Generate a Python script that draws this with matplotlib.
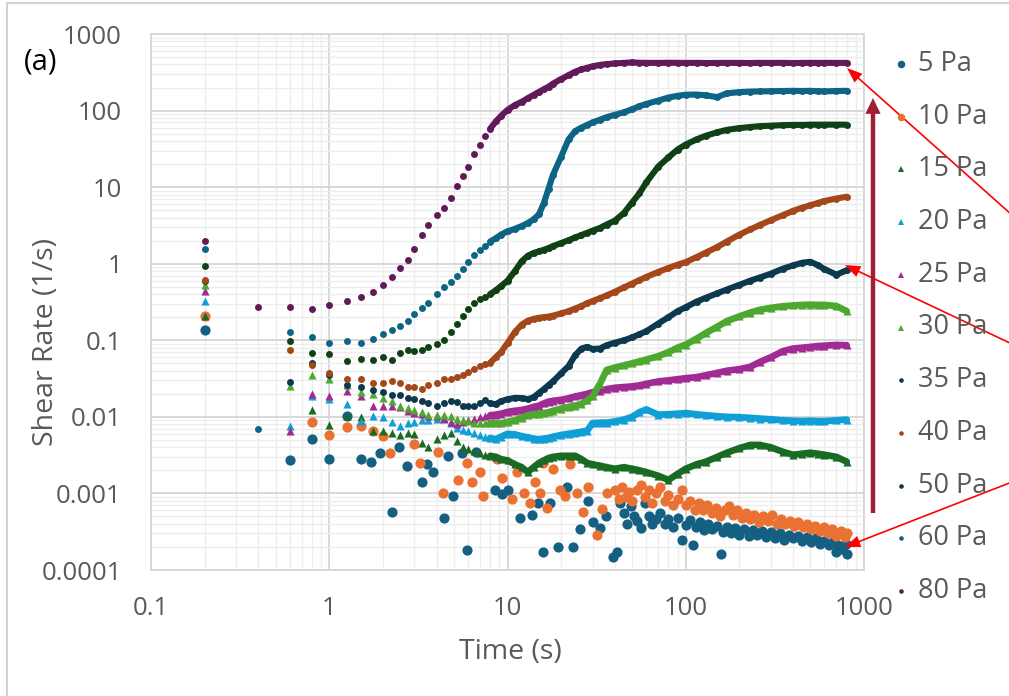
import numpy as np
import matplotlib
matplotlib.use("Agg")
import matplotlib.pyplot as plt
from matplotlib import ticker
from matplotlib.lines import Line2D

nan = float('nan')

# ---------------- data ----------------
time_s = [0.2, 0.4, 0.6, 0.8, 1.0, 1.25, 1.5, 1.75, 2.0, 2.25, 2.5, 2.75, 3.0,
          3.3, 3.6, 4.0, 4.4, 4.8, 5.2, 5.6, 6.0, 6.5, 7.0, 7.5, 8.0, 8.6, 9.2, 10,
          11, 12, 13, 14, 15, 16, 17, 18, 20, 22, 24, 26, 28, 30, 33, 36,
          40, 45, 50, 55, 60, 70, 80, 90, 100, 115, 130, 150, 170, 200, 230, 260,
          300, 350, 400, 450, 500, 550, 600, 700, 800]

rate_15pa = [0.21, nan, nan, 0.0124, 0.0079,
             0.0102, 0.01, 0.0065, 0.0065,
             0.0062, 0.0058, 0.0062, 0.006,
             0.0045, 0.0041, 0.0052,
             0.0058, 0.0062, 0.0048, 0.0041,
             0.0038, 0.0036, 0.0034, 0.0032,
             0.0031, 0.003, 0.0028, 0.0027,
             0.0024, 0.0022, 0.0019, 0.0022,
             0.0025, 0.0027, 0.0029, 0.003,
             0.0031, 0.0031, 0.0031, 0.0028,
             0.0025, 0.0024, 0.0023, 0.0022,
             0.0021, 0.0022, 0.0021, 0.002,
             0.0019, 0.0017, 0.0015, 0.0018,
             0.0021, 0.0024, 0.0026, 0.003,
             0.0034, 0.0039, 0.0043, 0.0043,
             0.004, 0.0035, 0.0032, 0.0033,
             0.0034, 0.0033, 0.0032, 0.003,
             0.0026]

rate_20pa = [0.33, nan, 0.0075, 0.019, 0.017,
             0.0148, 0.0088, 0.0102, 0.01,
             0.0085, 0.0075, 0.0082, 0.0085,
             0.009, 0.0092, 0.0095,
             0.0097, 0.0082, 0.0072, 0.0068,
             0.0066, 0.0062, 0.0058, 0.0055,
             0.0053, 0.0051, 0.0055, 0.006,
             0.0059, 0.0056, 0.0054, 0.0052,
             0.0051, 0.0052, 0.0053, 0.0055,
             0.0058, 0.006, 0.0062, 0.0064,
             0.0066, 0.0083, 0.0084, 0.0084,
             0.0087, 0.0092, 0.01, 0.0115,
             0.0125, 0.0107, 0.0108, 0.011,
             0.0112, 0.0108, 0.0105, 0.0102,
             0.01, 0.0099, 0.0097, 0.0095,
             0.0093, 0.009, 0.0089, 0.0088,
             0.0089, 0.0088, 0.0088, 0.009,
             0.0092]

rate_25pa = [0.435, nan, 0.0066, 0.02, 0.0186,
             0.0216, 0.0186, 0.014, 0.014,
             0.0137, 0.0135, 0.012, 0.0112,
             0.0108, 0.0102, 0.0102,
             0.0095, 0.0085, 0.008, 0.0086,
             0.009, 0.0095, 0.01, 0.0103,
             0.0105, 0.0107, 0.011, 0.0116,
             0.012, 0.0123, 0.0128, 0.0135,
             0.014, 0.015, 0.0158, 0.0162,
             0.0167, 0.0175, 0.0185, 0.0192,
             0.02, 0.021, 0.022, 0.023,
             0.024, 0.0245, 0.025, 0.0258,
             0.027, 0.029, 0.03, 0.031,
             0.032, 0.033, 0.035, 0.0375,
             0.04, 0.042, 0.045, 0.052,
             0.06, 0.072, 0.078, 0.08,
             0.082, 0.084, 0.085, 0.087,
             0.086]

rate_30pa = [0.52, nan, 0.025, 0.0355, 0.031,
             0.0263, 0.021, 0.02, 0.0175,
             0.016, 0.014, 0.013, 0.0124,
             0.0115, 0.0107, 0.0107,
             0.0105, 0.0102, 0.0095, 0.0092,
             0.0088, 0.0084, 0.0084, 0.0084,
             0.0083, 0.0082, 0.0082, 0.0086,
             0.009, 0.0097, 0.0105, 0.0108,
             0.011, 0.0112, 0.0115, 0.012,
             0.0128, 0.0135, 0.014, 0.0148,
             0.0165, 0.0185, 0.027, 0.041,
             0.044, 0.047, 0.05, 0.053,
             0.056, 0.062, 0.07, 0.08,
             0.088, 0.105, 0.125, 0.15,
             0.178, 0.205, 0.23, 0.25,
             0.265, 0.278, 0.285, 0.29,
             0.292, 0.29, 0.29, 0.28,
             0.24]

rate_35pa = [0.6, nan, 0.0286, 0.05, 0.035,
             0.0263, 0.0245, 0.0227, 0.021,
             0.0195, 0.0195, 0.0176, 0.0171,
             0.016, 0.015, 0.014,
             0.0152, 0.016, 0.0155, 0.014,
             0.0138, 0.0137, 0.015, 0.0164,
             0.015, 0.0146, 0.016, 0.017,
             0.0177, 0.0176, 0.017, 0.018,
             0.0205, 0.023, 0.026, 0.029,
             0.037, 0.046, 0.064, 0.078,
             0.082, 0.077, 0.078, 0.086,
             0.093, 0.1, 0.109, 0.12,
             0.131, 0.165, 0.2, 0.24,
             0.27, 0.32, 0.36, 0.41,
             0.46, 0.53, 0.6, 0.66,
             0.74, 0.86, 0.95, 1.03,
             1.06, 0.96, 0.85, 0.72,
             0.82]

rate_40pa = [0.61, nan, 0.075, 0.048, 0.037,
             0.031, 0.031, 0.028, 0.028,
             0.029, 0.028, 0.0245, 0.0245,
             0.023, 0.026, 0.028,
             0.031, 0.0315, 0.033, 0.0355,
             0.038, 0.042, 0.046, 0.049,
             0.051, 0.06, 0.07, 0.092,
             0.128, 0.16, 0.18, 0.19,
             0.197, 0.2, 0.204, 0.21,
             0.224, 0.24, 0.26, 0.28,
             0.305, 0.325, 0.355, 0.385,
             0.43, 0.49, 0.55, 0.61,
             0.67, 0.78, 0.88, 0.97,
             1.05, 1.22, 1.4, 1.65,
             1.95, 2.4, 2.8, 3.2,
             3.7, 4.3, 4.9, 5.4,
             5.8, 6.2, 6.6, 7.1,
             7.5]

rate_50pa = [0.92, nan, 0.097, 0.069, 0.066,
             0.053, 0.057, 0.055, 0.06,
             0.055, 0.068, 0.075, 0.072,
             0.075, 0.082, 0.09,
             0.1, 0.13, 0.165, 0.21,
             0.26, 0.31, 0.345, 0.37,
             0.4, 0.45, 0.51, 0.6,
             0.8, 1.07, 1.27, 1.38,
             1.45, 1.52, 1.6, 1.7,
             1.86, 2.03, 2.2, 2.37,
             2.53, 2.7, 2.93, 3.25,
             3.65, 4.6, 6.3, 8.3,
             11.5, 18.5, 24.5, 31,
             36, 42, 47, 52,
             56, 59, 61, 62.5,
             63.5, 64.5, 65, 65,
             65.5, 65.5, 65.5, 65.5,
             65.5]

rate_60pa = [1.57, 0.007, 0.127, 0.11, 0.093,
             0.099, 0.093, 0.104, 0.122,
             0.135, 0.155, 0.18, 0.22,
             0.265, 0.31, 0.40,
             0.49, 0.58, 0.70, 0.86,
             1.06, 1.29, 1.52, 1.72,
             1.95, 2.15, 2.4, 2.65,
             2.85, 3.1, 3.4, 3.8,
             4.4, 6.2, 9.6, 14.5,
             25, 42, 54, 60,
             65, 70, 76, 82,
             88, 95, 104, 114,
             122, 135, 148, 156,
             161, 162, 158, 150,
             168, 174, 177, 178,
             179, 180, 181, 180,
             181, 179, 178, 180,
             181]

rate_80pa = [2.0, 0.27, 0.27, 0.255, 0.29,
             0.325, 0.37, 0.43, 0.53,
             0.68, 0.87, 1.13, 1.56,
             2.35, 3.2, 4.3,
             5.3, 7.2, 10.2, 14,
             18.5, 27, 36, 46,
             58, 72, 85, 102,
             118, 130, 145, 160,
             175, 190, 205, 225,
             258, 290, 322, 345,
             362, 378, 395, 405,
             412, 420, 425, 421,
             420, 419, 421, 420,
             419, 420, 418, 419,
             420, 419, 418, 420,
             419, 420, 418, 419,
             420, 419, 420, 419,
             420]

time_5pa = [0.2, 0.6, 0.8, 1.0, 1.25, 1.5, 1.72, 1.93, 2.24, 2.45,
            2.73, 3.3, 3.53, 3.84, 4.4, 4.66, 4.97, 5.53, 5.96, 6.7,
            8.5, 9.3, 10.1, 11.7, 13.7, 14.9, 15.8, 17.3, 19.3, 21.5,
            23.4, 25.5, 28.3, 30.3, 33, 35.9, 39, 40.9, 42.7,
            45, 47, 49, 51, 53, 56, 59, 62, 65, 68, 72, 76, 80, 85, 90,
            95, 100, 106, 110, 114, 120, 126, 133, 141, 150, 158, 162, 170, 180, 190,
            200, 212, 225, 238, 252, 267, 283, 300, 318, 337, 357, 378, 400, 424, 450,
            477, 505, 535, 567, 600, 636, 674, 700, 714, 756, 790, 805]
rate_5pa = [0.137, 0.0027, 0.0052, 0.0028, 0.0102, 0.0028, 0.0026, 0.0034, 0.00058, 0.0041,
            0.0023, 0.0014, 0.0024, 0.0019, 0.00048, 0.0031, 0.00092, 0.0034, 0.00018, 0.0035,
            0.0011, 0.00097, 0.0011, 0.00048, 0.00053, 0.00075, 0.00017, 0.00075, 0.0002, 0.0012,
            0.0002, 0.00034, 0.00079, 0.00042, 0.00035, 0.0005, 0.00015, 0.00017, 0.00075,
            0.00056, 0.0004, 0.00069, 0.0005, 0.00044, 0.00035, 0.00075, 0.0005, 0.0004, 0.00046,
            0.00055, 0.0004, 0.00046, 0.00036, 0.00048,
            0.00025, 0.00039, 0.00045, 0.00021, 0.00036, 0.00042, 0.00033, 0.0004, 0.00034, 0.00038,
            0.00016, 0.00031, 0.00036, 0.0003, 0.00035,
            0.00029, 0.00034, 0.00028, 0.00033, 0.00029, 0.00032, 0.00027, 0.00031, 0.00026, 0.0003,
            0.00025, 0.00029, 0.00026, 0.00028, 0.00024,
            0.00027, 0.00023, 0.00026, 0.00022, 0.00024, 0.00021, 0.00023, 0.00017, 0.00021, 0.00019,
            0.00022, 0.00016]

time_10pa = [0.2, 0.8, 1.0, 1.25, 1.5, 1.75, 2.0, 2.2, 2.97, 3.23, 4.1, 4.37,
             5.3, 5.9, 6.3, 7.0, 7.3, 8.7, 9.3, 10.6, 11.3, 12.3, 13.4, 14.3,
             15.2, 15.8, 16.6, 18.1, 19.7, 21, 22.4, 24.4, 26.6, 28.3, 31.6, 33.7, 36,
             40, 42, 44, 46, 48, 50, 53, 56, 59, 62, 65, 68, 72, 76, 80, 85, 90, 95,
             100, 106, 112, 118, 125, 132, 140, 148, 156, 165, 175, 185, 195, 206, 218,
             230, 243, 257, 272, 288, 305, 323, 342, 362, 383, 405, 428, 452, 478, 505,
             533, 563, 595, 628, 663, 700, 740, 780, 800]
rate_10pa = [0.21, 0.0086, 0.0058, 0.0074, 0.0075, 0.0065, 0.0056, 0.0034, 0.0044, 0.0025,
             0.0035, 0.001, 0.0015, 0.0025, 0.0014, 0.0019, 0.00092, 0.0028, 0.0016, 0.00085,
             0.0019, 0.001, 0.00075, 0.0014, 0.001, 0.0025, 0.00064, 0.0021, 0.0011, 0.00092,
             0.0024, 0.001, 0.00058, 0.0012, 0.00029, 0.00062, 0.001,
             0.0011, 0.00085, 0.0012, 0.0009, 0.00105, 0.0008, 0.0011, 0.0013, 0.0009, 0.0011,
             0.00075, 0.001, 0.0012, 0.0008, 0.00095, 0.0007, 0.00085, 0.0011,
             0.0007, 0.0008, 0.0006, 0.00075, 0.0006, 0.0007, 0.00055, 0.00065, 0.0005, 0.0006,
             0.00068, 0.00052, 0.0006, 0.00048, 0.00056,
             0.00046, 0.00052, 0.00042, 0.0005, 0.00044, 0.00052, 0.0004, 0.00047, 0.0004, 0.00044,
             0.00037, 0.00042, 0.00036, 0.0004, 0.00034,
             0.00038, 0.00032, 0.00036, 0.0003, 0.00034, 0.00028, 0.00032, 0.00027, 0.0003]

labels = ['5 Pa', '10 Pa', '15 Pa', '20 Pa', '25 Pa', '30 Pa',
          '35 Pa', '40 Pa', '50 Pa', '60 Pa', '80 Pa']
x_ticks = [0.1, 1, 10, 100, 1000]
y_ticks = [0.0001, 0.001, 0.01, 0.1, 1, 10, 100, 1000]

# ---------------- styling ----------------
colors = ['#156082', '#E97132', '#196B24', '#0F9ED5', '#A02B93', '#4EA72E',
          '#0D394E', '#A4471A', '#0F4016', '#0E6485', '#601A59']
markers = ['o', 'o', '^', '^', '^', '^', 'o', 'o', 'o', 'o', 'o']
sizes = [54, 54, 34, 34, 34, 34, 25, 25, 25, 25, 25]
line_w = [None, None, 4.8, 4.8, 4.8, 4.8, 4.4, 4.4, 4.4, 4.4, 4.4]
leg_ms = [5.4, 5.4, 3.8, 3.8, 3.8, 3.8, 3.3, 3.3, 3.3, 3.3, 3.3]

series_t = [time_5pa, time_10pa] + [time_s] * 9
series_v = [rate_5pa, rate_10pa, rate_15pa, rate_20pa, rate_25pa, rate_30pa,
            rate_35pa, rate_40pa, rate_50pa, rate_60pa, rate_80pa]

plt.rcParams['font.family'] = ['Open Sans', 'DejaVu Sans']
GRAY = '#595959'

W, H = 1009, 696
fig = plt.figure(figsize=(W / 100, H / 100), dpi=100)


def fx(px):
    return px / W


def fy(py):
    return 1 - py / H


ax = fig.add_axes([fx(151), fy(570), fx(864) - fx(151), fy(34) - fy(570)])
ax.set_xscale('log')
ax.set_yscale('log')
ax.set_xlim(0.1, 1000)
ax.set_ylim(1e-4, 1000)

for i, (t, v) in enumerate(zip(series_t, series_v)):
    t = np.asarray(t, float)
    v = np.asarray(v, float)
    assert len(t) == len(v), labels[i]
    ok = ~np.isnan(v)
    ax.scatter(t[ok], v[ok], s=sizes[i], marker=markers[i], color=colors[i],
               linewidths=0, zorder=3 + i * 0.1)
    if line_w[i] is not None:
        m = (t >= 8) & ok
        ax.plot(t[m], v[m], color=colors[i], lw=line_w[i],
                solid_capstyle='round', solid_joinstyle='round', zorder=3 + i * 0.1)

ax.set_xticks(x_ticks)
ax.set_yticks(y_ticks)
sub = np.arange(2, 10)
ax.xaxis.set_minor_locator(ticker.LogLocator(base=10, subs=sub, numticks=100))
ax.yaxis.set_minor_locator(ticker.LogLocator(base=10, subs=sub, numticks=100))
ax.xaxis.set_minor_formatter(ticker.NullFormatter())
ax.yaxis.set_minor_formatter(ticker.NullFormatter())
fmt = ticker.FuncFormatter(lambda val, pos: f'{val:g}')
ax.xaxis.set_major_formatter(fmt)
ax.yaxis.set_major_formatter(fmt)

ax.grid(which='major', color='#D6D6D6', lw=1.3)
ax.grid(which='minor', color='#EDEDED', lw=1.0)
ax.set_axisbelow(True)
for sp in ax.spines.values():
    sp.set_color('#D6D6D6')
    sp.set_linewidth(1.3)
ax.tick_params(which='both', length=0)
ax.tick_params(axis='y', labelsize=18.5, labelcolor=GRAY, pad=21)
ax.tick_params(axis='x', labelsize=18.5, labelcolor=GRAY, pad=19)

ax.set_xlabel('Time (s)', fontsize=20.5, color=GRAY)
ax.set_ylabel('Shear Rate (1/s)', fontsize=20.5, color=GRAY)
ax.xaxis.set_label_coords((510 - 151) / 713, (570 - 638) / 536)
ax.yaxis.set_label_coords((60 - 151) / 713, (570 - 342) / 536)

# legend (drawn entry by entry at the reference positions)
for i, lab in enumerate(labels):
    yy = 64 + i * 52.7
    fig.add_artist(Line2D([fx(901)], [fy(yy)], marker=markers[i], color=colors[i],
                          markersize=leg_ms[i], markeredgewidth=0, linestyle='none',
                          transform=fig.transFigure))
    fig.text(fx(918), fy(yy), lab, fontsize=19.5, color=GRAY, va='center', ha='left')

fig.text(fx(24), fy(62), '(a)', fontsize=21, color='black', va='center', ha='left')

# outer frame (top and left edges visible)
fig.add_artist(Line2D([fx(7), fx(7)], [fy(3), 0], color='#D3D3D3', lw=1.5,
                      transform=fig.transFigure))
fig.add_artist(Line2D([fx(7), 1], [fy(3), fy(3)], color='#D3D3D3', lw=1.5,
                      transform=fig.transFigure))

# annotation arrows
red_arrows = [((1012, H - 215), (847, H - 68)),
              ((1012, H - 344), (845, H - 265)),
              ((1012, H - 482), (845, H - 547))]
for tail, head in red_arrows:
    ax.annotate('', xy=head, xycoords='figure pixels', xytext=tail,
                textcoords='figure pixels', annotation_clip=False,
                arrowprops=dict(arrowstyle='simple,head_length=0.55,head_width=0.42,tail_width=0.06',
                                color='#FF0000', lw=0, shrinkA=0, shrinkB=0,
                                mutation_scale=20), zorder=10)

ax.annotate('', xy=(873, H - 98), xycoords='figure pixels', xytext=(873, H - 513),
            textcoords='figure pixels', annotation_clip=False,
            arrowprops=dict(arrowstyle='simple,head_length=0.57,head_width=0.55,tail_width=0.16',
                            color='#A11D33', lw=0, shrinkA=0, shrinkB=0,
                            mutation_scale=20), zorder=10)

fig.savefig('out.png', dpi=100)
